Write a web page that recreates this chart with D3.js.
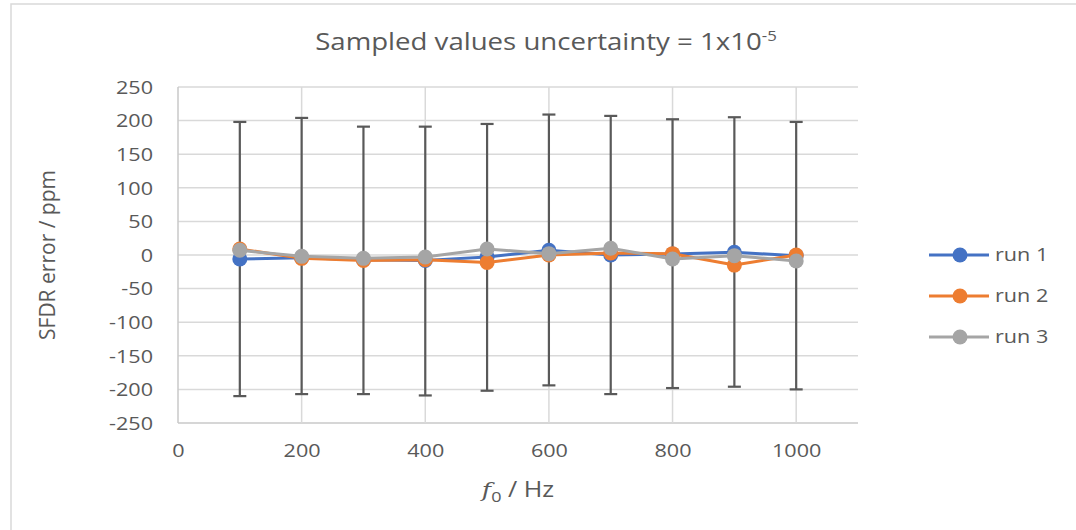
<!DOCTYPE html>
<html>
<head>
<meta charset="utf-8">
<script src="https://cdn.jsdelivr.net/npm/d3@7"></script>
<style>
  html, body { margin: 0; padding: 0; background: #fff; }
  svg { display: block; }
  text { font-family: "Open Sans", "Noto Sans", sans-serif; fill: #595959; }
</style>
</head>
<body>
<svg id="chart" width="1076" height="530"></svg>
<script>
// chart data
var frequencies = [100, 200, 300, 400, 500, 600, 700, 800, 900, 1000];
var run1 = [-6, -4, -7, -8, -3, 7, 0, 1.5, 4, -1];
var run2 = [9, -5, -8, -7, -11, 0, 3, 2, -15, 0];
var run3 = [7, -2, -5, -3, 9, 2, 10, -6, -1, -9];
// error bars drawn on run 1 (absolute ends, ppm)
var errTop = [198, 204, 191, 191, 195, 209, 207, 202, 205, 198];
var errBottom = [-210, -207, -207, -209, -202, -194, -207, -198, -196, -200];
var xTicks = [0, 200, 400, 600, 800, 1000];
var yTicks = [-250, -200, -150, -100, -50, 0, 50, 100, 150, 200, 250];
var seriesNames = ['run 1', 'run 2', 'run 3'];

(function() {

  // ----------
  var svg = d3.select('#chart');
  var colors = ['#4472C4', '#ED7D31', '#A5A5A5'];
  var series = [run1, run2, run3];
  // the source text is drawn a bit wider than the font
  var widen = 'scale(1.2,1)';

  var x = d3.scaleLinear().domain([0, 1100]).range([178, 858]);
  var y = d3.scaleLinear().domain([-250, 250]).range([423, 87]);

  // ----------
  // outer frame of the chart area (runs off the right and bottom edge)
  svg.append('rect')
    .attr('x', 11)
    .attr('y', 4)
    .attr('width', 1100)
    .attr('height', 560)
    .style('fill', '#fff')
    .style('stroke', '#d9d9d9')
    .style('stroke-width', 1.5);

  // ----------
  // gridlines
  svg.append('g').selectAll('line')
    .data(yTicks)
    .enter().append('line')
    .attr('x1', x(0))
    .attr('x2', x(1100))
    .attr('y1', function(d) { return y(d); })
    .attr('y2', function(d) { return y(d); })
    .style('stroke', function(d) { return d === -250 ? '#c8c8c8' : '#d9d9d9'; })
    .style('stroke-width', 1.5);

  svg.append('g').selectAll('line')
    .data(xTicks)
    .enter().append('line')
    .attr('x1', function(d) { return x(d); })
    .attr('x2', function(d) { return x(d); })
    .attr('y1', y(250))
    .attr('y2', y(-250))
    .style('stroke', function(d) { return d === 0 ? '#c8c8c8' : '#d9d9d9'; })
    .style('stroke-width', 1.5);

  // ----------
  // axes (labels only, the lines are the gridlines above)
  var plain = function(d) { return String(d); };

  var yAxis = svg.append('g')
    .attr('transform', 'translate(' + (x(0) - 25) + ',0)')
    .call(d3.axisLeft(y).tickValues(yTicks).tickFormat(plain).tickSize(0).tickPadding(0));

  var xAxis = svg.append('g')
    .attr('transform', 'translate(0,' + (y(-250) + 21) + ')')
    .call(d3.axisBottom(x).tickValues(xTicks).tickFormat(plain).tickSize(0).tickPadding(0));

  [yAxis, xAxis].forEach(function(axis) {
    axis.select('.domain').remove();
    axis.selectAll('text')
      .attr('transform', widen)
      .style('font-family', '"Open Sans", "Noto Sans", sans-serif')
      .style('font-size', '18px')
      .style('fill', '#595959');
  });
  yAxis.selectAll('text').attr('dy', '0.35em');
  xAxis.selectAll('text').attr('dy', '0.71em');

  // ----------
  // error bars (on run 1)
  var caps = svg.append('g').selectAll('g')
    .data(frequencies)
    .enter().append('g')
    .style('stroke', '#595959')
    .style('stroke-width', 2.2);

  caps.append('line')
    .attr('x1', function(d) { return x(d); })
    .attr('x2', function(d) { return x(d); })
    .attr('y1', function(d, i) { return y(errTop[i]); })
    .attr('y2', function(d, i) { return y(errBottom[i]); });

  caps.append('line')
    .attr('x1', function(d) { return x(d) - 6.5; })
    .attr('x2', function(d) { return x(d) + 6.5; })
    .attr('y1', function(d, i) { return y(errTop[i]); })
    .attr('y2', function(d, i) { return y(errTop[i]); });

  caps.append('line')
    .attr('x1', function(d) { return x(d) - 6.5; })
    .attr('x2', function(d) { return x(d) + 6.5; })
    .attr('y1', function(d, i) { return y(errBottom[i]); })
    .attr('y2', function(d, i) { return y(errBottom[i]); });

  // ----------
  // series lines and markers
  var line = d3.line()
    .x(function(d, i) { return x(frequencies[i]); })
    .y(function(d) { return y(d); });

  series.forEach(function(values, s) {
    var g = svg.append('g');

    g.append('path')
      .datum(values)
      .attr('d', line)
      .style('fill', 'none')
      .style('stroke', colors[s])
      .style('stroke-width', 3)
      .style('stroke-linejoin', 'round');

    g.selectAll('circle')
      .data(values)
      .enter().append('circle')
      .attr('cx', function(d, i) { return x(frequencies[i]); })
      .attr('cy', function(d) { return y(d); })
      .attr('r', 7.5)
      .style('fill', colors[s]);
  });

  // ----------
  // legend
  var legend = svg.append('g').selectAll('g')
    .data(seriesNames)
    .enter().append('g')
    .attr('transform', function(d, i) { return 'translate(929,' + (255 + i * 41) + ')'; });

  legend.append('line')
    .attr('x1', 0)
    .attr('x2', 60)
    .style('stroke', function(d, i) { return colors[i]; })
    .style('stroke-width', 3);

  legend.append('circle')
    .attr('cx', 31)
    .attr('r', 7.5)
    .style('fill', function(d, i) { return colors[i]; });

  legend.append('text')
    .attr('transform', 'translate(66,0) ' + widen)
    .attr('dy', '0.35em')
    .style('font-size', '18px')
    .text(function(d) { return d; });

  // ----------
  // titles
  var title = svg.append('text')
    .attr('transform', 'translate(546,50) ' + widen)
    .attr('text-anchor', 'middle')
    .style('font-size', '23px');
  title.append('tspan').text('Sampled values uncertainty = 1x10');
  title.append('tspan')
    .attr('dy', -9)
    .style('font-size', '14px')
    .text('-5');

  var xTitle = svg.append('text')
    .attr('transform', 'translate(' + x(550) + ',497) ' + widen)
    .attr('text-anchor', 'middle')
    .style('font-size', '21px');
  xTitle.append('tspan')
    .style('font-style', 'italic')
    .style('font-family', '"DejaVu Serif", serif')
    .text('f');
  xTitle.append('tspan')
    .attr('dy', 5)
    .style('font-size', '15px')
    .text('0');
  xTitle.append('tspan')
    .attr('dy', -5)
    .text(' / Hz');

  svg.append('text')
    .attr('transform', 'translate(55,' + y(0) + ') rotate(-90)')
    .attr('text-anchor', 'middle')
    .style('font-size', '21px')
    .text('SFDR error / ppm');

})();
</script>
</body>
</html>
